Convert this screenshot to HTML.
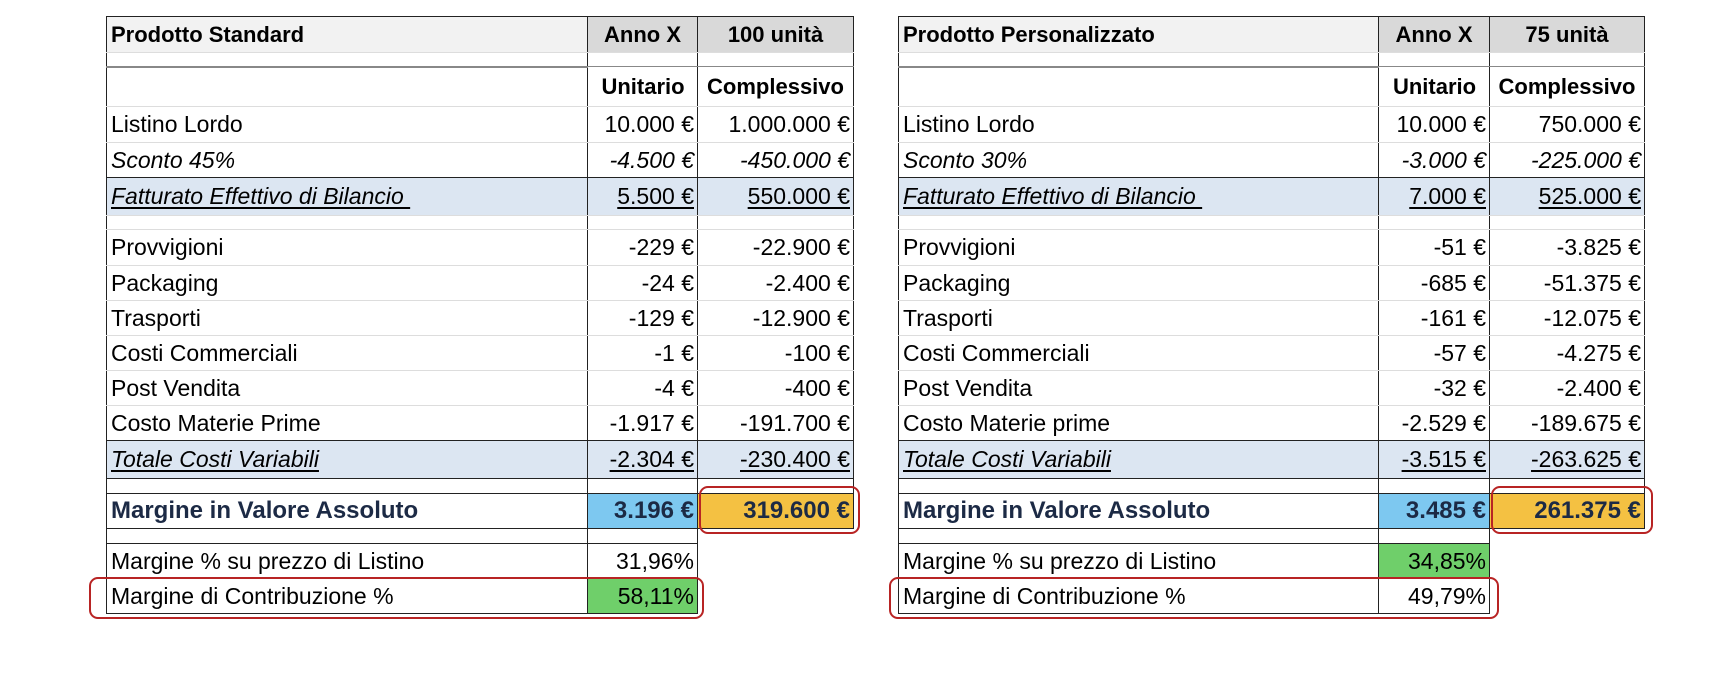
<!DOCTYPE html>
<html><head><meta charset="utf-8"><style>
body{margin:0;width:1714px;height:674px;background:#fff;position:relative;overflow:hidden;font-family:"Liberation Sans",sans-serif;}
table{position:absolute;border-collapse:collapse;table-layout:fixed;font-size:23px;color:#000;}
td{padding:0 4px;white-space:nowrap;overflow:hidden;border-left:1.5px solid #222;border-right:1.5px solid #222;border-bottom:1px solid #ddd;}
td.n{text-align:right;padding-right:3px}
.h td{background:#d9d9d9;font-weight:bold;border-top:1.5px solid #222;text-align:center;font-size:22px}
.h td:first-child{background:#f2f2f2;text-align:left}
.b{font-weight:bold}
.b td{font-size:22px}
.i{font-style:italic}
.u{text-decoration:underline;text-underline-offset:3px}
.blue td{background:#dce6f2}
.dk td{border-bottom:1.5px solid #222}
.m td{font-weight:bold;color:#1c2a45;font-size:24px}
.g{background:#6fcf6a}
.nb{border:none!important;background:none!important}
.red{position:absolute;border:2.5px solid #b82424;border-radius:9px;box-sizing:border-box}
</style></head><body>

<table style="left:106px;top:16px;width:747px">
<colgroup><col style="width:481px"><col style="width:110px"><col style="width:156px"></colgroup>
<tr class="h" style="height:36px"><td>Prodotto Standard</td><td>Anno X</td><td>100 unità</td></tr>
<tr style="height:14px"><td style="border-bottom:2px solid #888"></td><td style="border-bottom:1px solid #888"></td><td style="border-bottom:1px solid #888"></td></tr>
<tr style="height:40px" class="b"><td></td><td class="n" style="text-align:center">Unitario</td><td style="text-align:center">Complessivo</td></tr>
<tr style="height:36px"><td>Listino Lordo</td><td class="n">10.000 €</td><td class="n">1.000.000 €</td></tr>
<tr style="height:35px" class="i dk"><td>Sconto 45%</td><td class="n">-4.500 €</td><td class="n">-450.000 €</td></tr>
<tr style="height:38px" class="blue"><td class="i"><span class="u">Fatturato Effettivo di Bilancio&nbsp;</span></td><td class="n"><span class="u">5.500 €</span></td><td class="n"><span class="u">550.000 €</span></td></tr>
<tr style="height:14px"><td></td><td></td><td></td></tr>
<tr style="height:36px"><td>Provvigioni</td><td class="n">-229 €</td><td class="n">-22.900 €</td></tr>
<tr style="height:35px"><td>Packaging</td><td class="n">-24 €</td><td class="n">-2.400 €</td></tr>
<tr style="height:35px"><td>Trasporti</td><td class="n">-129 €</td><td class="n">-12.900 €</td></tr>
<tr style="height:35px"><td>Costi Commerciali</td><td class="n">-1 €</td><td class="n">-100 €</td></tr>
<tr style="height:35px"><td>Post Vendita</td><td class="n">-4 €</td><td class="n">-400 €</td></tr>
<tr style="height:35px" class="dk"><td>Costo Materie Prime</td><td class="n">-1.917 €</td><td class="n">-191.700 €</td></tr>
<tr style="height:38px" class="blue dk"><td class="i"><span class="u">Totale Costi Variabili</span></td><td class="n"><span class="u">-2.304 €</span></td><td class="n"><span class="u">-230.400 €</span></td></tr>
<tr style="height:15px" class="dk"><td></td><td></td><td></td></tr>
<tr style="height:35px" class="m dk"><td>Margine in Valore Assoluto</td><td class="n" style="background:#7dc8f0">3.196 €</td><td class="n" style="background:#f4c142">319.600 €</td></tr>
<tr style="height:15px" class="dk"><td></td><td></td><td class="nb"></td></tr>
<tr style="height:35px" class="dk"><td>Margine % su prezzo di Listino</td><td class="n">31,96%</td><td class="nb"></td></tr>
<tr style="height:35px" class="dk"><td>Margine di Contribuzione %</td><td class="n g">58,11%</td><td class="nb"></td></tr>
</table>

<table style="left:898px;top:16px;width:746px">
<colgroup><col style="width:480px"><col style="width:111px"><col style="width:155px"></colgroup>
<tr class="h" style="height:36px"><td>Prodotto Personalizzato</td><td>Anno X</td><td>75 unità</td></tr>
<tr style="height:14px"><td style="border-bottom:2px solid #888"></td><td style="border-bottom:1px solid #888"></td><td style="border-bottom:1px solid #888"></td></tr>
<tr style="height:40px" class="b"><td></td><td class="n" style="text-align:center">Unitario</td><td style="text-align:center">Complessivo</td></tr>
<tr style="height:36px"><td>Listino Lordo</td><td class="n">10.000 €</td><td class="n">750.000 €</td></tr>
<tr style="height:35px" class="i dk"><td>Sconto 30%</td><td class="n">-3.000 €</td><td class="n">-225.000 €</td></tr>
<tr style="height:38px" class="blue"><td class="i"><span class="u">Fatturato Effettivo di Bilancio&nbsp;</span></td><td class="n"><span class="u">7.000 €</span></td><td class="n"><span class="u">525.000 €</span></td></tr>
<tr style="height:14px"><td></td><td></td><td></td></tr>
<tr style="height:36px"><td>Provvigioni</td><td class="n">-51 €</td><td class="n">-3.825 €</td></tr>
<tr style="height:35px"><td>Packaging</td><td class="n">-685 €</td><td class="n">-51.375 €</td></tr>
<tr style="height:35px"><td>Trasporti</td><td class="n">-161 €</td><td class="n">-12.075 €</td></tr>
<tr style="height:35px"><td>Costi Commerciali</td><td class="n">-57 €</td><td class="n">-4.275 €</td></tr>
<tr style="height:35px"><td>Post Vendita</td><td class="n">-32 €</td><td class="n">-2.400 €</td></tr>
<tr style="height:35px" class="dk"><td>Costo Materie prime</td><td class="n">-2.529 €</td><td class="n">-189.675 €</td></tr>
<tr style="height:38px" class="blue dk"><td class="i"><span class="u">Totale Costi Variabili</span></td><td class="n"><span class="u">-3.515 €</span></td><td class="n"><span class="u">-263.625 €</span></td></tr>
<tr style="height:15px" class="dk"><td></td><td></td><td></td></tr>
<tr style="height:35px" class="m dk"><td>Margine in Valore Assoluto</td><td class="n" style="background:#7dc8f0">3.485 €</td><td class="n" style="background:#f4c142">261.375 €</td></tr>
<tr style="height:15px" class="dk"><td></td><td></td><td class="nb"></td></tr>
<tr style="height:35px" class="dk"><td>Margine % su prezzo di Listino</td><td class="n g">34,85%</td><td class="nb"></td></tr>
<tr style="height:35px" class="dk"><td>Margine di Contribuzione %</td><td class="n">49,79%</td><td class="nb"></td></tr>
</table>

<div class="red" style="left:699px;top:486px;width:161px;height:48px"></div>
<div class="red" style="left:89px;top:577px;width:615px;height:42px"></div>
<div class="red" style="left:1491px;top:486px;width:162px;height:48px"></div>
<div class="red" style="left:889px;top:577px;width:610px;height:42px"></div>
</body></html>
